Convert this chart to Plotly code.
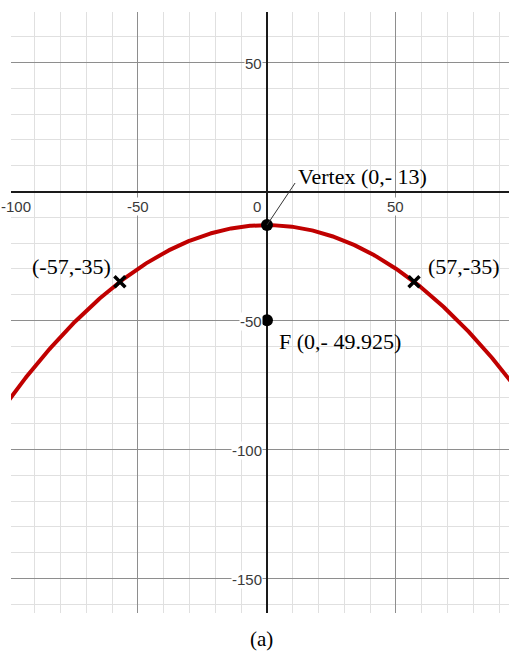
import numpy as np
import plotly.graph_objects as go

# Parabola defined by its vertex and focus
vertex = (0, -13)
focus = (0, -49.925)
pts_x = [-57, 57]
pts_y = [-35, -35]
pts_labels = ["(-57,-35)", "(57,-35)"]
vertex_label = "Vertex (0,- 13)"
focus_label = "F (0,- 49.925)"

x_ticks = [-100, -50, 0, 50]
y_ticks = [50, -50, -100, -150]

x_range = [-99.2, 93.8]
y_range = [-163.4, 69.6]

W, H = 509, 652
M = dict(l=11, r=0, t=12, b=39)
plot_w = W - M["l"] - M["r"]

# focal distance p; opens downward: y = k - (x-h)^2 / (4p)
p = vertex[1] - focus[1]
cx = np.linspace(x_range[0] - 5, x_range[1] + 5, 500)
cy = vertex[1] - (cx - vertex[0]) ** 2 / (4 * p)

fig = go.Figure()

fig.add_trace(go.Scatter(
    x=cx, y=cy, mode="lines",
    line=dict(color="#c00000", width=4),
    hoverinfo="skip",
))

fig.add_trace(go.Scatter(
    x=pts_x, y=pts_y, mode="markers",
    marker=dict(symbol="x-thin", size=11, color="black",
                line=dict(color="black", width=3.5)),
    hoverinfo="skip",
))

fig.add_trace(go.Scatter(
    x=[vertex[0], focus[0]], y=[vertex[1], focus[1]], mode="markers",
    marker=dict(symbol="circle", size=12, color="black"),
    hoverinfo="skip",
))

# leader line from the vertex up to its label
fig.add_shape(type="line", xref="x", yref="y",
              x0=vertex[0], y0=vertex[1],
              x1=vertex[0] + 10.9, y1=vertex[1] + 16.3,
              line=dict(color="#333333", width=1))

serif = dict(family="Liberation Serif, Times New Roman, serif", size=22, color="black")
sans = dict(family="Liberation Sans, Arial, sans-serif", size=15, color="#3a3a3a")

ann = []
ann.append(dict(x=vertex[0], y=vertex[1], text=vertex_label, showarrow=False,
                xanchor="left", yanchor="middle", xshift=29, yshift=49, font=serif))
ann.append(dict(x=focus[0], y=focus[1], text=focus_label, showarrow=False,
                xanchor="left", yanchor="middle", xshift=10, yshift=-21, font=serif))
ann.append(dict(x=pts_x[0], y=pts_y[0], text=pts_labels[0], showarrow=False,
                xanchor="right", yanchor="middle", xshift=-7, yshift=15, font=serif))
ann.append(dict(x=pts_x[1], y=pts_y[1], text=pts_labels[1], showarrow=False,
                xanchor="left", yanchor="middle", xshift=12, yshift=15, font=serif))

# axis numbers drawn next to the axes
for t in x_ticks:
    if t < x_range[0]:
        # number falls past the left edge: pin it to the page's left border
        ann.append(dict(x=-M["l"] / plot_w, xref="paper", y=0, text=str(t),
                        showarrow=False, xanchor="left", yanchor="middle",
                        yshift=-15, font=sans, bgcolor="white", borderpad=0))
        continue
    xs = -10 if t == 0 else 0
    ann.append(dict(x=t, y=0, text=str(t), showarrow=False, xanchor="center",
                    yanchor="middle", xshift=xs, yshift=-15, font=sans,
                    bgcolor="white", borderpad=0))
for t in y_ticks:
    ann.append(dict(x=0, y=t, text=str(t), showarrow=False, xanchor="right",
                    yanchor="middle", xshift=-4, yshift=-1, font=sans,
                    bgcolor="white", borderpad=0))

ann.append(dict(x=0.504, y=-0.0655, xref="paper", yref="paper", text="(a)",
                showarrow=False, xanchor="center", yanchor="bottom", borderpad=0,
                font=dict(family=serif["family"], size=21, color="black")))

axis_common = dict(
    showticklabels=False, ticks="",
    showgrid=True, gridcolor="#8e8e8e", gridwidth=1,
    dtick=50, tick0=0,
    minor=dict(dtick=10, tick0=0, showgrid=True, gridcolor="#e0e0e0", gridwidth=1),
    zeroline=True, zerolinecolor="#1a1a1a", zerolinewidth=2,
    showline=False, fixedrange=True,
)

fig.update_layout(
    width=W, height=H,
    margin=M,
    paper_bgcolor="white", plot_bgcolor="white",
    showlegend=False,
    xaxis=dict(range=x_range, **axis_common),
    yaxis=dict(range=y_range, **axis_common),
    annotations=ann,
)

fig.write_html("out.html")
